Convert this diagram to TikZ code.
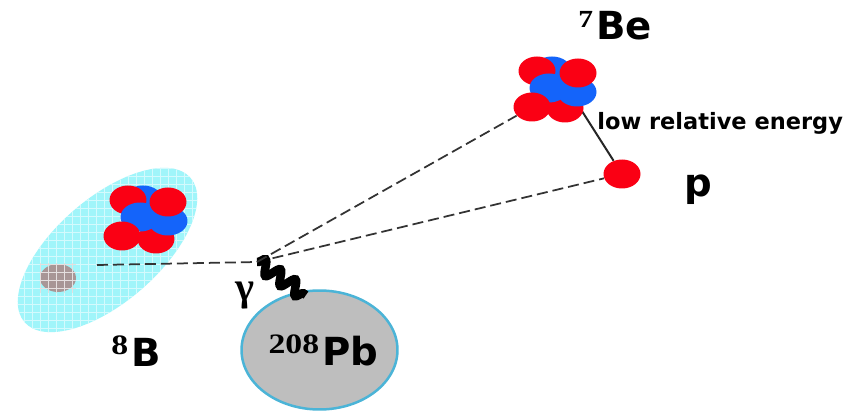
\documentclass[tikz,border=0pt]{standalone}
\usepackage{fontspec}
\setmainfont{DejaVu Sans}
\newfontfamily\numfont[FakeStretch=1.2]{Liberation Serif}
\newfontfamily\gammafont{Liberation Serif}
\usetikzlibrary{shapes.geometric, decorations.pathmorphing}
\definecolor{protonred}{RGB}{250, 0, 20}
\definecolor{neutronblue}{RGB}{20, 100, 250}
\definecolor{cloudcyan}{RGB}{160, 245, 250}
\definecolor{coregray}{RGB}{168, 150, 150}
\definecolor{leadgray}{RGB}{190, 190, 190}
\definecolor{leadrim}{RGB}{75, 180, 215}

\begin{document}
\begin{tikzpicture}[
    x=0.02cm, y=-0.02cm,
    red/.style={ellipse, fill=protonred, minimum width=0.74cm, minimum height=0.58cm, inner sep=0pt},
    blue/.style={ellipse, fill=neutronblue, minimum width=0.78cm, minimum height=0.58cm, inner sep=0pt},
    cloud8b/.style={ellipse, fill=cloudcyan, minimum width=4.4cm, minimum height=2.08cm, inner sep=0pt},
    lead/.style={ellipse, draw=leadrim, line width=0.05cm, fill=leadgray, minimum width=3.12cm, minimum height=2.38cm, inner sep=0pt},
    beam/.style={dash pattern=on 0.22cm off 0.1cm, line width=0.035cm, black!80},
    label/.style={font=\bfseries\fontsize{22}{24}\selectfont, inner sep=0pt},
    sup/.style={font=\numfont\bfseries\fontsize{16}{18}\selectfont, inner sep=0pt, yshift=0.24cm, xshift=-0.05cm}
]
    \useasboundingbox[fill=white] (0,0) rectangle (854,411);

    % halo nucleus with its grid
    \node[cloud8b, rotate=41] (halo) at (107.5,250) {};
    \node[ellipse, fill=coregray, minimum width=0.72cm, minimum height=0.56cm, inner sep=0pt] (core) at (58,278) {};
    \begin{scope}
        \clip[rotate around={41:(halo.center)}] (halo.center) ellipse (2.2cm and 1.04cm);
        \draw[white!55!cloudcyan, line width=0.012cm, step=0.16cm] (0,0) grid (220,350);
        \draw[white!70!coregray, line width=0.012cm, step=0.16cm] (core.west) ++(0,-15) grid ++(36,30);
    \end{scope}

    % target
    \node[lead] (pb) at (319.5,350) {};

    % interaction point, proton and the link to the fragment
    \coordinate (vertex) at (257,262);
    \coordinate (start) at (97,265);
    \coordinate (bond) at (580,108);
    \coordinate (hit) at (306,295);
    \node[red] (p) at (622,174) {};
    \draw[line width=0.04cm, black!85] (bond) -- (p);
    \draw[beam] (start) -- (vertex);
    \draw[beam] (vertex) -- (p);
    \draw[line width=0.17cm, decorate, decoration={snake, segment length=0.36cm, amplitude=0.14cm}] (vertex) -- (hit);

    % 8B cluster
    \node[blue] (a0) at (143,200) {};
    \node[red] (a1) at (128,200) {};
    \node[red] (a4) at (156,239) {};
    \node[blue] (a5) at (140,217) {};
    \node[blue] (a6) at (168,221) {};
    \node[red] (a2) at (168,202) {};
    \node[red] (a3) at (122,236) {};

    % 7Be cluster
    \node[blue] (b0) at (552,71) {};
    \node[red] (b1) at (537,71) {};
    \node[red] (b4) at (565,108) {};
    \node[blue] (b5) at (549,88) {};
    \node[blue] (b6) at (577,92) {};
    \node[red] (b2) at (578,73) {};
    \node[red] (b3) at (532,107) {};
    \draw[beam] (vertex) -- (b3);

    % labels
    \node[label, anchor=base west] (lb) at (131,366) {B};
    \node[sup, anchor=base east] (lb8) at (lb.base west) {8};
    \node[label, anchor=base west] (lbe) at (596,40) {Be};
    \node[sup, anchor=base east, font=\numfont\bfseries\fontsize{14}{16}\selectfont] (lbe7) at (lbe.base west) {7};
    \node[label, anchor=base west] (lpb) at (322,365) {Pb};
    \node[sup, anchor=base east] (lpb208) at (lpb.base west) {208};
    \node[label, anchor=base] (lp) at (698,197) {p};
    \node[font=\gammafont\bfseries\fontsize{23}{25}\selectfont, inner sep=0pt, anchor=base] (lgamma) at (245,301) {γ};
    \node[font=\bfseries\fontsize{12.8}{14}\selectfont, inner sep=0pt, anchor=base west] (lenergy) at (597,130) {low relative energy};
\end{tikzpicture}
\end{document}
